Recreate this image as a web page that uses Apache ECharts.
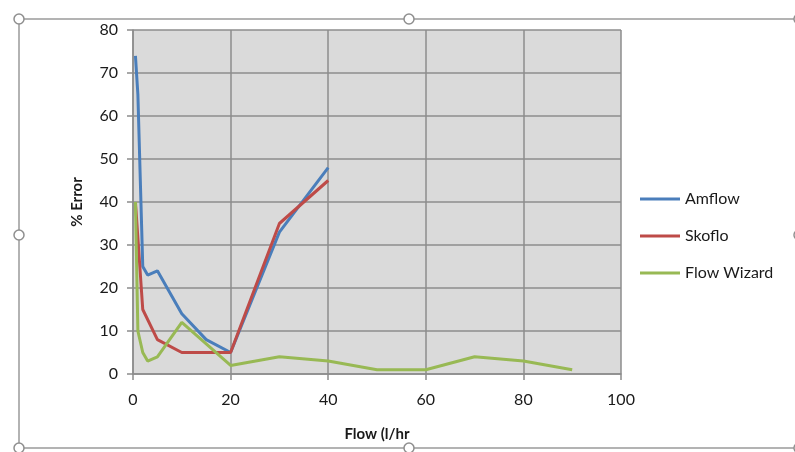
<!DOCTYPE html>
<html>
<head>
<meta charset="utf-8">
<script src="https://cdn.jsdelivr.net/npm/echarts@6/dist/echarts.min.js"></script>
<style>
html,body{margin:0;padding:0;background:#fff;}
#c{width:795px;height:452px;}
</style>
</head>
<body>
<div id="c"></div>
<script>
// Data
var amflowX = [0.5, 1, 2, 3, 5, 10, 15, 20, 30, 40];
var amflowY = [74, 65, 25, 23, 24, 14, 8, 5, 33, 48];
var skofloX = [0.5, 2, 5, 10, 20, 30, 40];
var skofloY = [40, 15, 8, 5, 5, 35, 45];
var wizardX = [0.5, 1, 2, 3, 5, 10, 15, 20, 30, 40, 50, 60, 70, 80, 90];
var wizardY = [40, 10, 5, 3, 4, 12, 7, 2, 4, 3, 1, 1, 4, 3, 1];
var seriesNames = ['Amflow', 'Skoflo', 'Flow Wizard'];
var colors = ['#4a7ebb', '#be4b48', '#98b954'];

function pairs(xs, ys) { return xs.map(function (x, i) { return [x, ys[i]]; }); }

var chart = echarts.init(document.getElementById('c'), null, {renderer: 'canvas'});
var font = 'Lato, "Open Sans", "Liberation Sans", sans-serif';
var gridLine = {lineStyle: {color: '#8c8c8c', width: 1.5}};

var handles = [[19,19],[409,19],[799,19],[19,235],[799,235],[19,448],[409,448],[799,448]];
var graphics = [
  {type: 'polyline', shape: {points: [[19,19],[799,19]]}, style: {stroke: '#9a9a9a', lineWidth: 1.5, fill: null}, z: 10},
  {type: 'polyline', shape: {points: [[19,19],[19,448]]}, style: {stroke: '#9a9a9a', lineWidth: 1.5, fill: null}, z: 10},
  {type: 'polyline', shape: {points: [[19,448],[799,448]]}, style: {stroke: '#9a9a9a', lineWidth: 1.5, fill: null}, z: 10}
];
handles.forEach(function (h) {
  graphics.push({type: 'circle', shape: {cx: h[0], cy: h[1], r: 5}, style: {fill: '#fff', stroke: '#8f8f8f', lineWidth: 1.5}, z: 11});
});

var option = {
  backgroundColor: '#ffffff',
  animation: false,
  color: colors,
  textStyle: {fontFamily: font},
  grid: {left: 133, right: 174, top: 30, bottom: 78, show: true, backgroundColor: '#dadada', borderWidth: 0},
  legend: {
    orient: 'vertical', left: 635, top: 186, itemGap: 21,
    itemWidth: 40, itemHeight: 3, icon: 'rect',
    textStyle: {fontSize: 16, color: '#1a1a1a', fontFamily: font},
    data: seriesNames
  },
  xAxis: {
    type: 'value', min: 0, max: 100, interval: 20,
    name: 'Flow (l/hr', nameLocation: 'middle', nameGap: 53,
    nameTextStyle: {fontSize: 15, fontWeight: 'bold', color: '#1a1a1a', fontFamily: font},
    axisLine: {show: true, lineStyle: {color: '#8c8c8c', width: 1.5}},
    axisTick: {show: true, length: 6, lineStyle: {color: '#8c8c8c', width: 1.5}},
    axisLabel: {fontSize: 16, color: '#1a1a1a', margin: 18, fontFamily: font},
    splitLine: {show: true, lineStyle: gridLine.lineStyle}
  },
  yAxis: {
    type: 'value', min: 0, max: 80, interval: 10,
    name: '% Error', nameLocation: 'middle', nameGap: 48, nameRotate: 90,
    nameTextStyle: {fontSize: 15, fontWeight: 'bold', color: '#1a1a1a', fontFamily: font},
    axisLine: {show: true, lineStyle: {color: '#8c8c8c', width: 1.5}},
    axisTick: {show: true, length: 6, lineStyle: {color: '#8c8c8c', width: 1.5}},
    axisLabel: {fontSize: 16, color: '#1a1a1a', margin: 15, fontFamily: font},
    splitLine: {show: true, lineStyle: gridLine.lineStyle}
  },
  series: [
    {name: seriesNames[0], type: 'line', data: pairs(amflowX, amflowY), showSymbol: false, symbol: 'none', lineStyle: {width: 3}, z: 3},
    {name: seriesNames[1], type: 'line', data: pairs(skofloX, skofloY), showSymbol: false, symbol: 'none', lineStyle: {width: 3}, z: 4},
    {name: seriesNames[2], type: 'line', data: pairs(wizardX, wizardY), showSymbol: false, symbol: 'none', lineStyle: {width: 3}, z: 5}
  ],
  graphic: graphics
};
chart.setOption(option);
</script>
</body>
</html>
